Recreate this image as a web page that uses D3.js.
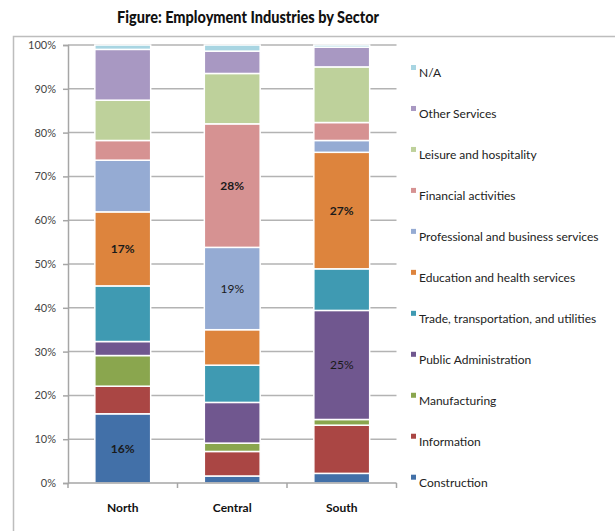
<!DOCTYPE html>
<html><head><meta charset="utf-8">
<script src="https://cdn.jsdelivr.net/npm/d3@7"></script>
<style>body{margin:0;background:#fff}svg{display:block}</style>
</head><body>
<svg id="c" width="615" height="531"></svg>
<script>
const regions = ["North", "Central", "South"];
const sectors = ["Construction", "Information", "Manufacturing", "Public Administration",
  "Trade, transportation, and utilities", "Education and health services",
  "Professional and business services", "Financial activities",
  "Leisure and hospitality", "Other Services", "N/A"];
const colors = ["#4270a8", "#aa4644", "#8aa64e", "#70578f", "#3f9ab2", "#dd843d",
  "#95abd3", "#d69292", "#bed19b", "#a898c2", "#a8d5e2"];
const northValues   = [15.8, 6.3, 7.0, 3.2, 12.7, 16.9, 11.8, 4.5, 9.2, 11.6, 1.0];
const centralValues = [1.6, 5.6, 1.9, 9.3, 8.5, 8.1, 18.8, 28.2, 11.5, 5.1, 1.4];
const southValues   = [2.2, 11.0, 1.3, 24.9, 9.5, 26.6, 2.7, 4.1, 12.7, 4.5, 0.5];
const yTicks = [0, 10, 20, 30, 40, 50, 60, 70, 80, 90, 100];
// labels shown on segments: [region index, sector index, text, bold]
const segLabels = [[0, 0, "16%", true], [0, 5, "17%", true], [1, 6, "19%", false],
  [1, 7, "28%", true], [2, 3, "25%", false], [2, 5, "27%", true]];

const seriesByRegion = [northValues, centralValues, southValues];
const rows = regions.map((r, i) => {
  const o = {region: r};
  sectors.forEach((s, j) => o[s] = seriesByRegion[i][j]);
  return o;
});
const stacked = d3.stack().keys(sectors)(rows);

const svg = d3.select("#c");
const font = "Lato, 'Open Sans', sans-serif";
const m = {left: 68, right: 396.5, top: 45, bottom: 483};

// frame
svg.append("path").attr("d", `M13.5,531 L13.5,36.5 L615,36.5`)
  .attr("fill", "none").attr("stroke", "#bdbdbd").attr("stroke-width", 1.5);

svg.append("text").attr("x", 248).attr("y", 23).attr("text-anchor", "middle")
  .attr("font-family", font).attr("font-weight", "900").attr("font-size", 16)
  .attr("textLength", 262).attr("lengthAdjust", "spacingAndGlyphs")
  .attr("fill", "#111").text("Figure: Employment Industries by Sector");

const x = d3.scaleBand().domain(regions).range([m.left, m.right]).paddingInner(0.49).paddingOuter(0.245);
const y = d3.scaleLinear().domain([0, 100]).range([m.bottom, m.top]);

// gridlines
svg.append("g").selectAll("line").data(yTicks.filter(t => t > 0)).join("line")
  .attr("x1", m.left).attr("x2", m.right).attr("y1", d => y(d)).attr("y2", d => y(d))
  .attr("stroke", "#b3b3b3").attr("stroke-width", 1.5);

// y axis
const yAxis = svg.append("g").attr("transform", `translate(${m.left},0)`)
  .call(d3.axisLeft(y).tickValues(yTicks).tickFormat(d => d + "%").tickSize(5).tickPadding(7));
yAxis.select(".domain").attr("stroke", "#a6a6a6").attr("stroke-width", 1.5);
yAxis.selectAll(".tick line").attr("stroke", "#a6a6a6").attr("stroke-width", 1.5);
yAxis.selectAll("text").attr("font-family", font).attr("font-size", 11).attr("fill", "#444");

// bars
svg.append("g").selectAll("g").data(stacked).join("g")
  .attr("fill", (d, i) => colors[i])
  .selectAll("rect").data(d => d).join("rect")
  .attr("x", d => x(d.data.region)).attr("width", x.bandwidth())
  .attr("y", d => y(d[1])).attr("height", d => Math.max(0, y(d[0]) - y(d[1])))
  .attr("stroke", "#fff").attr("stroke-width", 1.5);

// x axis
const xAxis = svg.append("g").attr("transform", `translate(0,${m.bottom})`)
  .call(d3.axisBottom(x).tickSize(0).tickPadding(20));
xAxis.select(".domain").remove();
svg.append("line").attr("x1", m.left).attr("x2", m.right).attr("y1", m.bottom).attr("y2", m.bottom)
  .attr("stroke", "#a6a6a6").attr("stroke-width", 1.5);
const bounds = [m.left, ...regions.map(r => x(r) + x.bandwidth() + x.step() * x.paddingInner() / 2)];
svg.append("g").selectAll("line").data(bounds).join("line")
  .attr("x1", d => d).attr("x2", d => d).attr("y1", m.bottom).attr("y2", m.bottom + 5)
  .attr("stroke", "#a6a6a6").attr("stroke-width", 1.5);
xAxis.selectAll("text").attr("font-family", font).attr("font-size", 12).attr("font-weight", "bold").attr("fill", "#111");

// segment labels
svg.append("g").selectAll("text").data(segLabels).join("text")
  .attr("x", d => x(regions[d[0]]) + x.bandwidth() / 2)
  .attr("y", d => { const s = stacked[d[1]][d[0]]; return (y(s[0]) + y(s[1])) / 2; })
  .attr("dy", "0.35em").attr("text-anchor", "middle")
  .attr("font-family", font).attr("font-size", 12).attr("font-weight", d => d[3] ? "bold" : "normal")
  .attr("fill", "#1a1a1a").text(d => d[2]);

// legend (top to bottom: reversed order)
const legendItems = sectors.map((s, i) => ({s, c: colors[i]})).reverse();
const lg = svg.append("g").selectAll("g").data(legendItems).join("g")
  .attr("transform", (d, i) => `translate(411,${73 + i * 40.97})`);
lg.append("rect").attr("x", 0).attr("y", -8).attr("width", 5).attr("height", 5).attr("fill", d => d.c);
lg.append("text").attr("x", 8).attr("y", 0).attr("dy", "0.35em")
  .attr("font-family", font).attr("font-size", 12).attr("fill", "#222").text(d => d.s);
</script>
</body></html>
